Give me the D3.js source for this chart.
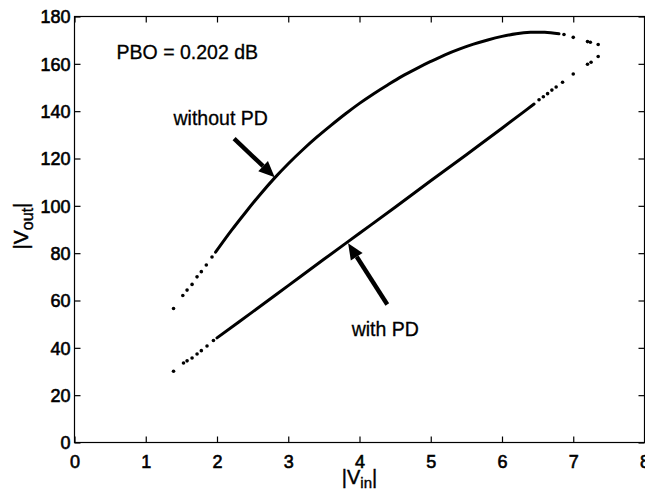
<!DOCTYPE html>
<html><head><meta charset="utf-8">
<script src="https://cdn.jsdelivr.net/npm/d3@7"></script>
<style>
html,body{margin:0;padding:0;background:#fff;}
svg text{font-family:"Liberation Sans",Arial,Helvetica,sans-serif;fill:#000;}
</style></head>
<body><svg id="c" width="645" height="491"></svg>
<script>
// ---- data ----
const xTicks = [0,1,2,3,4,5,6,7,8];
const yTicks = [0,20,40,60,80,100,120,140,160,180];

// "without PD" curve: sparse dots at start, dense solid part, sparse dots at end
const woStartDots = [[1.39,56.6],[1.52,62.1],[1.58,64.4],[1.65,66.8],[1.72,70.0],[1.78,72.2],[1.85,75.0],[1.93,78.4]];
const woSolid = [[1.98,80.4],[2.2,89.5],[2.4,97.2],[2.6,104.6],[2.8,111.5],[3.0,117.8],[3.2,123.6],[3.4,129.0],[3.6,134.0],[3.8,138.8],[4.0,143.3],[4.2,147.4],[4.4,151.2],[4.6,154.8],[4.8,158.0],[5.0,161.0],[5.2,163.8],[5.4,166.2],[5.6,168.3],[5.8,170.1],[6.0,171.6],[6.2,172.7],[6.4,173.3],[6.6,173.3],[6.8,172.7]];
const woEndDots = [[6.87,172.4],[7.0,171.2],[7.2,169.4],[7.24,169.1],[7.35,168.2]];

// "with PD" curve
const wStartDots = [[1.39,30.1],[1.53,33.6],[1.58,34.5],[1.65,35.7],[1.72,37.4],[1.78,38.8],[1.86,40.8],[1.95,43.1]];
const wSolid = [[2.0,44.2],[2.5,55.2],[3.0,66.3],[3.5,77.4],[4.0,88.4],[4.5,99.4],[5.0,110.6],[5.5,121.6],[6.0,132.8],[6.3,139.6],[6.45,143.0]];
const wEndDots = [[6.52,144.8],[6.58,146.1],[6.64,147.4],[6.7,148.9],[6.76,150.2],[6.85,152.2],[7.0,155.7],[7.2,159.8],[7.25,160.7],[7.35,163.1]];

// annotations (data coordinates)
const arrows = [
  {from:[2.24,128.4], to:[2.81,112.1]},
  {from:[4.39,58.3],  to:[3.84,84.2]}
];
const labels = [
  {text:"PBO = 0.202 dB", x:0.59, y:162.0},
  {text:"without PD",     x:1.39, y:134.0},
  {text:"with PD",        x:3.89, y:44.8}
];

// ---- layout ----
const L=74.5, R=644.5, T=16.5, B=442.5;
const x = d3.scaleLinear().domain([0,8]).range([L,R]);
const y = d3.scaleLinear().domain([0,180]).range([B,T]);
const svg = d3.select("#c");

// frame
svg.append("rect").attr("x",L).attr("y",T).attr("width",R-L).attr("height",B-T)
  .attr("fill","none").attr("stroke","#000").attr("stroke-width",1.2);

// axes (ticks inward)
const tickLen = 6;
const ax = svg.append("g").attr("transform",`translate(0,${B})`)
  .call(d3.axisBottom(x).tickValues(xTicks).tickSize(-tickLen).tickPadding(0).tickFormat(d3.format("d")));
ax.select(".domain").remove();
ax.selectAll("text").attr("font-size",18).attr("dy",null).attr("y",25)
  .attr("stroke","#000").attr("stroke-width",0.6);
const ay = svg.append("g").attr("transform",`translate(${L},0)`)
  .call(d3.axisLeft(y).tickValues(yTicks).tickSize(-tickLen).tickPadding(0).tickFormat(d3.format("d")));
ay.select(".domain").remove();
ay.selectAll("text").attr("font-size",18).attr("x",-4).attr("dy","0.36em")
  .attr("stroke","#000").attr("stroke-width",0.6);
// mirrored ticks on top and right
svg.append("g").attr("transform",`translate(0,${T})`)
  .call(d3.axisTop(x).tickValues(xTicks).tickSize(-tickLen).tickFormat(""))
  .select(".domain").remove();
svg.append("g").attr("transform",`translate(${R},0)`)
  .call(d3.axisRight(y).tickValues(yTicks).tickSize(-tickLen).tickFormat(""))
  .select(".domain").remove();
svg.selectAll(".tick line").attr("stroke","#000").attr("stroke-width",1.2);

// curves
const line = d3.line().x(d=>x(d[0])).y(d=>y(d[1])).curve(d3.curveCatmullRom);
[woSolid, wSolid].forEach(s=>{
  svg.append("path").datum(s).attr("d",line).attr("fill","none")
    .attr("stroke","#000").attr("stroke-width",3).attr("stroke-linecap","round");
});
[woStartDots, woEndDots, wStartDots, wEndDots].forEach(s=>{
  svg.append("g").selectAll("circle").data(s).join("circle")
    .attr("cx",d=>x(d[0])).attr("cy",d=>y(d[1])).attr("r",1.8).attr("fill","#000");
});

// arrows
arrows.forEach(a=>{
  const x1=x(a.from[0]), y1=y(a.from[1]), x2=x(a.to[0]), y2=y(a.to[1]);
  const ang=Math.atan2(y2-y1,x2-x1), hl=16, hw=7;
  const bx=x2-hl*Math.cos(ang), by=y2-hl*Math.sin(ang);
  svg.append("line").attr("x1",x1).attr("y1",y1).attr("x2",bx).attr("y2",by)
    .attr("stroke","#000").attr("stroke-width",4.4);
  const px=-Math.sin(ang), py=Math.cos(ang);
  svg.append("polygon").attr("points",
    [[x2,y2],[bx+hw*px,by+hw*py],[bx-hw*px,by-hw*py]].map(p=>p.join(",")).join(" "))
    .attr("fill","#000");
});

// labels
labels.forEach(l=>{
  svg.append("text").attr("x",x(l.x)).attr("y",y(l.y)).attr("font-size",19.5)
    .attr("stroke","#000").attr("stroke-width",0.3).text(l.text);
});

// axis titles
const xt = svg.append("text").attr("x",x(4)).attr("y",484).attr("text-anchor","middle").attr("font-size",20)
  .attr("stroke","#000").attr("stroke-width",0.4);
xt.append("tspan").text("|V");
xt.append("tspan").attr("font-size",15).attr("dy",4).text("in");
xt.append("tspan").attr("dy",-4).text("|");

const yt = svg.append("text").attr("transform",`translate(28,226) rotate(-90)`).attr("text-anchor","middle").attr("font-size",21)
  .attr("stroke","#000").attr("stroke-width",0.4);
yt.append("tspan").text("|V");
yt.append("tspan").attr("font-size",16).attr("dy",5).text("out");
yt.append("tspan").attr("dy",-5).text("|");
</script></body></html>
